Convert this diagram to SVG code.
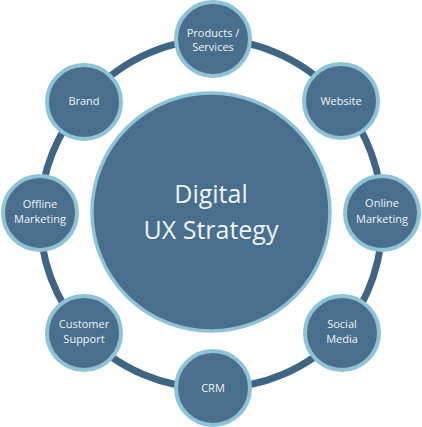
<svg xmlns="http://www.w3.org/2000/svg" width="422" height="427" viewBox="0 0 422 427">
<style>
.node{fill:#4A6F8D;stroke:#8EC3D6;stroke-width:4}
.hub{fill:#4A6F8D;stroke:#8EC3D6;stroke-width:3.5}
.conn{fill:none;stroke:#3F6582;stroke-width:7}
.t{font-family:"Open Sans","Liberation Sans",sans-serif;font-size:11px;fill:#EEF3F7;text-anchor:middle}
.big{font-family:"Open Sans","Liberation Sans",sans-serif;font-size:25px;fill:#EEF3F7;text-anchor:middle}
</style>
<rect width="422" height="427" fill="#FFFFFF"/>
<g id="connectors">
<path class="conn" d="M213 39 A173 174 0 0 1 341 101"/>
<path class="conn" d="M341 101 A173 174 0 0 1 382 213"/>
<path class="conn" d="M382 213 A173 174 0 0 1 342 333"/>
<path class="conn" d="M342 333 A173 174 0 0 1 213 388"/>
<path class="conn" d="M213 388 A173 174 0 0 1 84 333"/>
<path class="conn" d="M84 333 A173 174 0 0 1 40 213"/>
<path class="conn" d="M40 213 A173 174 0 0 1 84 102"/>
<path class="conn" d="M84 102 A173 174 0 0 1 213 39"/>
</g>
<g id="hub">
<circle class="hub" cx="211" cy="212" r="119"/>
<text class="big" x="211" y="203">Digital</text>
<text class="big" x="211" y="239">UX Strategy</text>
</g>
<g id="products">
<circle class="node" cx="213" cy="39" r="37"/>
<text class="t" x="213" y="37">Products /</text>
<text class="t" x="213" y="51">Services</text>
</g>
<g id="website">
<circle class="node" cx="341" cy="101" r="37"/>
<text class="t" x="341" y="105">Website</text>
</g>
<g id="online-marketing">
<circle class="node" cx="382" cy="213" r="37"/>
<text class="t" x="382" y="207">Online</text>
<text class="t" x="382" y="223">Marketing</text>
</g>
<g id="social-media">
<circle class="node" cx="342" cy="333" r="37"/>
<text class="t" x="342" y="328">Social</text>
<text class="t" x="342" y="343">Media</text>
</g>
<g id="crm">
<circle class="node" cx="213" cy="388" r="37"/>
<text class="t" x="213" y="392">CRM</text>
</g>
<g id="customer-support">
<circle class="node" cx="84" cy="333" r="37"/>
<text class="t" x="84" y="328">Customer</text>
<text class="t" x="84" y="343">Support</text>
</g>
<g id="offline-marketing">
<circle class="node" cx="40" cy="213" r="37"/>
<text class="t" x="40" y="208">Offline</text>
<text class="t" x="40" y="223">Marketing</text>
</g>
<g id="brand">
<circle class="node" cx="84" cy="102" r="37"/>
<text class="t" x="84" y="105">Brand</text>
</g>
</svg>
